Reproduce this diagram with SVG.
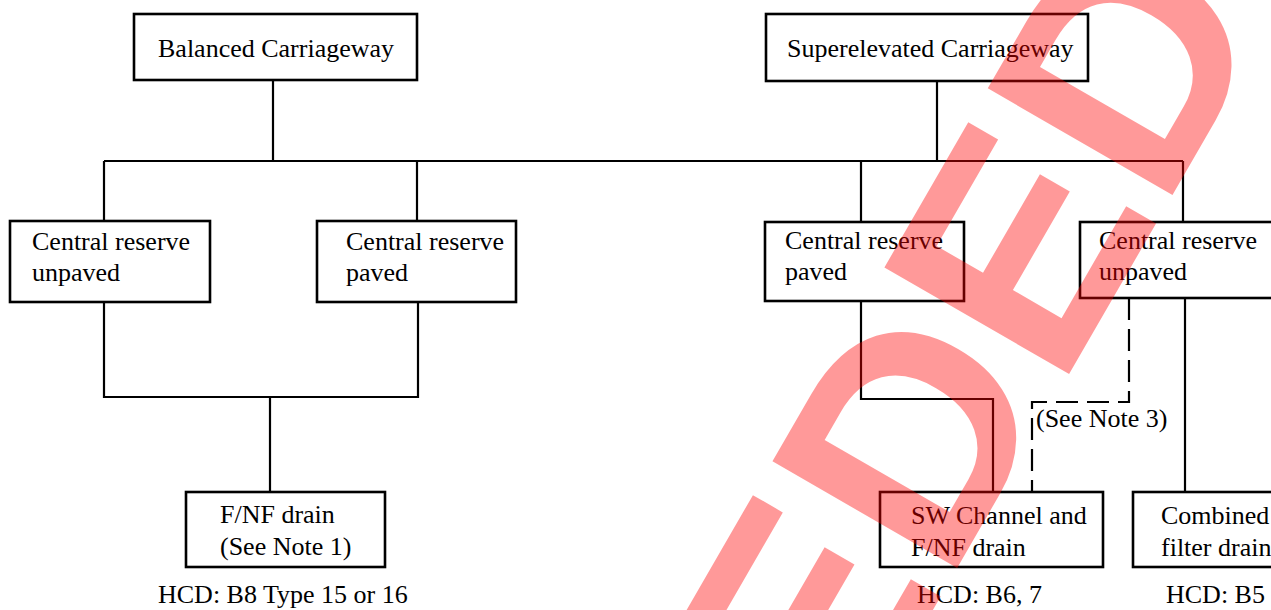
<svg xmlns="http://www.w3.org/2000/svg" width="1271" height="610" viewBox="0 0 1271 610">
<style>
.box{fill:#fff;stroke:#000;stroke-width:2.6}
.ln{fill:none;stroke:#000;stroke-width:2.2}
.dash{fill:none;stroke:#000;stroke-width:2.2;stroke-dasharray:22 9}
text{font-family:"Liberation Serif","Times New Roman",serif;font-size:26px;fill:#000}
.wm{font-family:"Liberation Sans",Arial,sans-serif;font-weight:bold;font-size:310px;fill:#ff0000;fill-opacity:0.4}
</style>
<rect width="1271" height="610" fill="#fff"/>
<g id="connectors">
<path class="ln" d="M273,81V161M937,81V161M104,161H1183M104,161V221M417,161V221M861,161V222M1183,161V222"/>
<path class="ln" d="M104,302V397H418V302M270,397V492"/>
<path class="ln" d="M861,301V399H993V492"/>
<path class="dash" d="M1129,298V402H1032V491"/>
<path class="ln" d="M1185,298V492"/>
</g>
<g id="balanced"><rect class="box" x="134" y="14" width="283" height="66"/><text x="158" y="57">Balanced Carriageway</text></g>
<g id="superelevated"><rect class="box" x="766" y="14" width="322" height="67"/><text x="787" y="57">Superelevated Carriageway</text></g>
<g id="cr-unpaved-left"><rect class="box" x="10" y="221" width="200" height="81"/><text x="32" y="250">Central reserve</text><text x="32" y="281">unpaved</text></g>
<g id="cr-paved-left"><rect class="box" x="317" y="221" width="199" height="81"/><text x="346" y="250">Central reserve</text><text x="346" y="281">paved</text></g>
<g id="cr-paved-right"><rect class="box" x="765" y="222" width="199" height="79"/><text x="785" y="249">Central reserve</text><text x="785" y="280">paved</text></g>
<g id="cr-unpaved-right"><rect class="box" x="1080" y="222" width="200" height="76"/><text x="1099" y="249">Central reserve</text><text x="1099" y="280">unpaved</text></g>
<g id="fnf-drain"><rect class="box" x="186" y="492" width="199" height="75"/><text x="220" y="523">F/NF drain</text><text x="220" y="555">(See Note 1)</text></g>
<text x="158" y="603">HCD: B8 Type 15 or 16</text>
<g id="sw-channel"><rect class="box" x="880" y="492" width="223" height="75"/><text x="911" y="524">SW Channel and</text><text x="911" y="556">F/NF drain</text></g>
<text x="917" y="603">HCD: B6, 7</text>
<g id="combined"><rect class="box" x="1133" y="492" width="150" height="75"/><text x="1161" y="524">Combined</text><text x="1161" y="556">filter drain</text></g>
<text x="1166" y="603">HCD: B5</text>
<text x="1036" y="427">(See Note 3)</text>
<text class="wm" transform="translate(206,1869) rotate(-60)">SUPERSEDED</text>
</svg>
